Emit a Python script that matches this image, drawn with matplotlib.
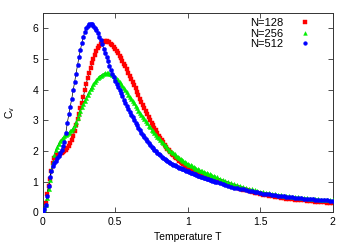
import numpy as np
import matplotlib
matplotlib.use("Agg")
import matplotlib.pyplot as plt

plt.rcParams['font.family'] = ['Liberation Sans', 'DejaVu Sans']

# temperature grid: 0.00..1.20 step 0.01, then 1.22..2.00 step 0.02
T_low = np.round(np.arange(0, 0.6001, 0.01), 2)
T_mid = np.round(np.arange(0.61, 1.2001, 0.01), 2)
T_high = np.round(np.arange(1.22, 2.0001, 0.02), 2)
T = np.concatenate([T_low, T_mid, T_high])

cv128_low = [0, 0.12, 0.3, 0.6, 0.85, 1.1, 1.34, 1.62, 1.76, 1.82,
             1.86, 1.89, 1.92, 1.94, 1.97, 2.0, 2.04, 2.1, 2.17, 2.26,
             2.36, 2.48, 2.66, 2.85, 3.04, 3.22, 3.4, 3.57, 3.77, 3.98,
             4.2, 4.38, 4.56, 4.72, 4.87, 5.01, 5.14, 5.26, 5.36, 5.44,
             5.5, 5.54, 5.57, 5.58, 5.58, 5.57, 5.54, 5.5, 5.45, 5.39,
             5.33, 5.26, 5.19, 5.11, 5.03, 4.94, 4.85, 4.76, 4.66, 4.56,
             4.46]
cv128_mid = [4.36, 4.26, 4.15, 4.04, 3.93, 3.82, 3.71, 3.6, 3.5, 3.4,
             3.3, 3.2, 3.11, 3.02, 2.93, 2.84, 2.75, 2.67, 2.58, 2.5,
             2.42, 2.35, 2.28, 2.21, 2.14, 2.08, 2.02, 1.96, 1.91, 1.86,
             1.81, 1.77, 1.73, 1.69, 1.65, 1.62, 1.58, 1.55, 1.52, 1.49,
             1.46, 1.43, 1.40, 1.38, 1.35, 1.33, 1.30, 1.28, 1.25, 1.23,
             1.21, 1.19, 1.17, 1.15, 1.13, 1.11, 1.09, 1.07, 1.05, 1.03]
cv128_high = [0.99, 0.96, 0.92, 0.89, 0.86, 0.83, 0.80, 0.77, 0.745, 0.72,
              0.695, 0.67, 0.645, 0.62, 0.60, 0.58, 0.56, 0.54, 0.52, 0.505,
              0.49, 0.475, 0.465, 0.45, 0.44, 0.43, 0.42, 0.41, 0.40, 0.39,
              0.38, 0.37, 0.36, 0.355, 0.345, 0.335, 0.325, 0.315, 0.305, 0.30]

cv256_low = [0, 0.1, 0.25, 0.48, 0.75, 1.05, 1.38, 1.65, 1.88, 2.03,
             2.14, 2.24, 2.32, 2.38, 2.43, 2.48, 2.52, 2.56, 2.6, 2.64,
             2.69, 2.75, 2.85, 2.96, 3.08, 3.2, 3.31, 3.42, 3.54, 3.64,
             3.74, 3.84, 3.93, 4.02, 4.1, 4.18, 4.25, 4.31, 4.37, 4.42,
             4.46, 4.49, 4.52, 4.53, 4.54, 4.53, 4.52, 4.5, 4.47, 4.43,
             4.39, 4.35, 4.3, 4.24, 4.18, 4.12, 4.05, 3.98, 3.91, 3.84,
             3.76]
cv256_mid = [3.69, 3.62, 3.55, 3.47, 3.4, 3.32, 3.25, 3.18, 3.11, 3.04,
             2.97, 2.9, 2.83, 2.77, 2.7, 2.64, 2.58, 2.52, 2.46, 2.41,
             2.35, 2.3, 2.25, 2.2, 2.15, 2.1, 2.05, 2.01, 1.97, 1.93,
             1.89, 1.85, 1.81, 1.78, 1.74, 1.71, 1.68, 1.65, 1.62, 1.59,
             1.56, 1.53, 1.5, 1.48, 1.45, 1.43, 1.4, 1.38, 1.36, 1.34,
             1.32, 1.30, 1.28, 1.26, 1.24, 1.22, 1.2, 1.18, 1.16, 1.14]
cv256_high = [1.10, 1.06, 1.02, 0.99, 0.95, 0.92, 0.89, 0.86, 0.83, 0.80,
              0.775, 0.75, 0.725, 0.70, 0.68, 0.66, 0.64, 0.625, 0.61, 0.59,
              0.575, 0.56, 0.545, 0.535, 0.52, 0.51, 0.50, 0.49, 0.48, 0.47,
              0.46, 0.45, 0.445, 0.44, 0.43, 0.42, 0.41, 0.405, 0.40, 0.39]

cv512_low = [0, 0.1, 0.25, 0.55, 0.87, 1.15, 1.36, 1.5, 1.6, 1.68,
             1.76, 1.85, 1.95, 2.05, 2.18, 2.3, 2.6, 2.93, 3.2, 3.45,
             3.7, 3.98, 4.25, 4.52, 4.8, 5.05, 5.3, 5.52, 5.72, 5.88,
             6.0, 6.08, 6.13, 6.15, 6.13, 6.08, 6.02, 5.94, 5.84, 5.73,
             5.62, 5.48, 5.34, 5.2, 5.06, 4.92, 4.78, 4.65, 4.52, 4.40,
             4.29, 4.18, 4.08, 3.98, 3.88, 3.78, 3.68, 3.58, 3.48, 3.38,
             3.28]
cv512_mid = [3.19, 3.1, 3.01, 2.92, 2.84, 2.76, 2.68, 2.6, 2.52, 2.45,
             2.38, 2.32, 2.26, 2.2, 2.14, 2.09, 2.04, 1.99, 1.94, 1.9,
             1.86, 1.82, 1.78, 1.75, 1.71, 1.68, 1.65, 1.62, 1.59, 1.56,
             1.53, 1.51, 1.48, 1.46, 1.44, 1.42, 1.40, 1.38, 1.36, 1.34,
             1.32, 1.30, 1.28, 1.26, 1.24, 1.22, 1.20, 1.18, 1.165, 1.15,
             1.13, 1.11, 1.095, 1.08, 1.065, 1.05, 1.03, 1.01, 0.995, 0.98]
cv512_high = [0.95, 0.92, 0.89, 0.86, 0.84, 0.81, 0.79, 0.77, 0.75, 0.73,
              0.71, 0.69, 0.67, 0.65, 0.63, 0.615, 0.60, 0.585, 0.57, 0.555,
              0.54, 0.53, 0.52, 0.51, 0.50, 0.49, 0.48, 0.47, 0.46, 0.45,
              0.44, 0.435, 0.43, 0.42, 0.41, 0.40, 0.395, 0.39, 0.38, 0.37]

labels = ["N=128", "N=256", "N=512"]
series = [cv128_low + cv128_mid + cv128_high,
          cv256_low + cv256_mid + cv256_high,
          cv512_low + cv512_mid + cv512_high]
colors = ["#ff0000", "#00ee00", "#0000ff"]
markers = ["s", "^", "o"]

fig = plt.figure(figsize=(3.5, 2.45), dpi=100)
ax = fig.add_axes([0.122, 0.133, 0.829, 0.814])

for y in series:
    ax.plot(T, y, color="black", lw=0.5, zorder=1)
for i, (y, c, m, lab) in enumerate(zip(series, colors, markers, labels)):
    ax.plot(T, y, linestyle="none", marker=m, ms=3.0, mfc=c, mec=c,
            mew=0.3, color=c, label=lab, zorder=2 + i)

ax.set_xlim(0, 2)
ax.set_ylim(0, 6.5)
ax.set_xticks([0, 0.5, 1, 1.5, 2])
ax.set_xticklabels(["0", "0.5", "1", "1.5", "2"])
ax.set_yticks([0, 1, 2, 3, 4, 5, 6])
ax.tick_params(direction="in", length=3.5, width=0.6, top=True, right=True,
               labelsize=7.5, pad=3, color="#333333")
for s in ax.spines.values():
    s.set_linewidth(0.7)
    s.set_color("#333333")

ax.set_xlabel("Temperature T", fontsize=7.5, labelpad=4)
ax.set_ylabel("C$_\\mathregular{v}$", fontsize=7.5, labelpad=11)

leg = ax.legend(loc="upper right", bbox_to_anchor=(0.92, 0.975),
                frameon=False, markerfirst=False, fontsize=8,
                handlelength=0.8, handletextpad=1.6, labelspacing=0.05,
                borderaxespad=0, borderpad=0, markerscale=0.9)

fig.savefig("out.png", dpi=100)
